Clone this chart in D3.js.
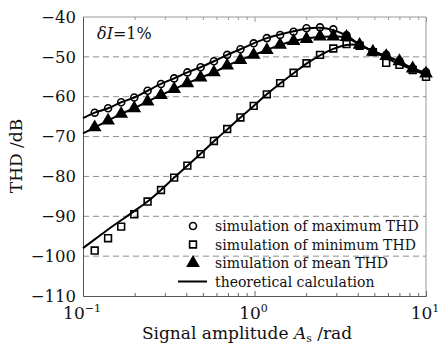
<!DOCTYPE html>
<html>
<head>
<meta charset="utf-8">
<script src="https://cdn.jsdelivr.net/npm/d3@7"></script>
<style>
  body { margin: 0; background: #fff; }
  svg { display: block; font-family: "DejaVu Serif", serif; }
</style>
</head>
<body>
<div id="chart"></div>
<script>
// signal amplitude (rad) of the simulation points
const amplitude = [
  0.117, 0.140, 0.167, 0.199, 0.238, 0.285, 0.340, 0.406, 0.485, 0.580,
  0.693, 0.828, 0.989, 1.18, 1.41, 1.69, 2.01, 2.41, 2.88, 3.44,
  4.10, 4.90, 5.86, 7.00, 8.36, 10.0,
];
const maxThd = [
  -64.0, -62.9, -61.4, -60.2, -58.5, -56.8, -55.4, -53.9, -52.6, -51.1,
  -49.5, -48.1, -46.6, -45.3, -44.5, -43.7, -42.8, -42.6, -43.1, -44.6,
  -47.0, -48.7, -49.5, -51.0, -52.9, -53.8,
];
const minThd = [
  -98.6, -95.5, -92.6, -89.5, -86.3, -83.4, -80.3, -77.3, -74.4, -71.1,
  -68.1, -65.2, -62.3, -59.4, -56.6, -54.0, -51.6, -49.5, -47.9, -46.8,
  -47.2, -48.8, -51.5, -52.0, -53.3, -55.0,
];
const meanThd = [
  -67.7, -66.0, -64.3, -62.9, -61.2, -59.6, -58.1, -56.6, -55.2, -53.9,
  -52.2, -50.8, -49.5, -48.3, -47.0, -46.0, -45.5, -44.9, -44.9, -45.0,
  -47.0, -48.7, -49.8, -51.1, -52.9, -54.2,
];

// theoretical curves, read at the left edge and at the point positions
const theoryAmp = [0.1].concat(amplitude);
const theoryMax = [
  -65.4, -64.0, -62.9, -61.4, -60.2, -58.5, -56.8, -55.4, -53.9, -52.6, -51.1,
  -49.5, -48.1, -46.6, -45.3, -44.4, -43.6, -42.9, -42.7, -43.3, -44.7,
  -46.9, -48.6, -49.7, -51.2, -52.9, -54.0,
];
const theoryMin = [
  -98.0, -95.8, -93.3, -91.0, -88.7, -86.3, -83.4, -80.3, -77.3, -74.3, -71.2,
  -68.2, -65.2, -62.3, -59.4, -56.7, -54.1, -51.7, -49.6, -48.0, -47.0,
  -47.1, -48.6, -50.3, -51.8, -53.2, -54.6,
];
const theoryMean = [
  -69.2, -67.7, -66.0, -64.3, -62.9, -61.2, -59.6, -58.1, -56.6, -55.2, -53.9,
  -52.2, -50.8, -49.5, -48.3, -47.0, -46.0, -45.4, -45.0, -44.9, -45.2,
  -46.9, -48.6, -49.9, -51.2, -52.9, -54.2,
];

const yTicks = [-110, -100, -90, -80, -70, -60, -50, -40];
const yGrid = [-100, -90, -80, -70, -60, -50];
const xMajor = [{ v: 0.1, exp: "\u22121" }, { v: 1, exp: "0" }, { v: 10, exp: "1" }];
const legendLabels = [
  "simulation of maximum THD",
  "simulation of minimum THD",
  "simulation of mean THD",
  "theoretical calculation",
];

const width = 440, height = 344;
const svg = d3.select("#chart").append("svg")
  .attr("width", width).attr("height", height);

const x = d3.scaleLog().domain([0.1, 10]).range([83, 426]);
const y = d3.scaleLinear().domain([-110, -40]).range([296, 17]);

// grid
svg.append("g").selectAll("line").data(yGrid).enter().append("line")
  .attr("x1", x(0.1)).attr("x2", x(10))
  .attr("y1", d => y(d)).attr("y2", d => y(d))
  .attr("stroke", "#8c8c8c").attr("stroke-width", 1)
  .attr("stroke-dasharray", "6,4");

// frame: top and right lighter
svg.append("path")
  .attr("d", `M${x(0.1)},${y(-40)}H${x(10)}V${y(-110)}`)
  .attr("fill", "none").attr("stroke", "#9a9a9a").attr("stroke-width", 1);

const minor = x.ticks().filter(v => !xMajor.some(m => Math.abs(m.v - v) < 1e-9));

// bottom axis, ticks inside
const bottomAxis = svg.append("g").attr("transform", `translate(0,${y(-110)})`);
bottomAxis.call(d3.axisBottom(x).tickValues(xMajor.map(m => m.v)).tickSizeInner(-5).tickSizeOuter(0).tickFormat(""));
bottomAxis.append("g").call(d3.axisBottom(x).tickValues(minor).tickSizeInner(-3).tickSizeOuter(0).tickFormat(""));
bottomAxis.selectAll(".domain").attr("stroke", "#555");
bottomAxis.selectAll(".tick line").attr("stroke", "#666");

const topAxis = svg.append("g").attr("transform", `translate(0,${y(-40)})`);
topAxis.call(d3.axisTop(x).tickValues(xMajor.map(m => m.v)).tickSizeInner(-5).tickSizeOuter(0).tickFormat(""));
topAxis.append("g").call(d3.axisTop(x).tickValues(minor).tickSizeInner(-3).tickSizeOuter(0).tickFormat(""));
topAxis.selectAll(".domain").remove();
topAxis.selectAll(".tick line").attr("stroke", "#999");

// left axis
const leftAxis = svg.append("g").attr("transform", `translate(${x(0.1)},0)`);
leftAxis.call(d3.axisLeft(y).tickValues(yTicks).tickSize(0).tickPadding(7)
  .tickFormat(d => String(d).replace("-", "\u2212")));
leftAxis.select(".domain").attr("stroke", "#555");
leftAxis.selectAll("text").attr("font-family", "DejaVu Serif").attr("font-size", 16.5).attr("fill", "#111");

// x tick labels with exponents
const xl = svg.append("g").selectAll("text").data(xMajor).enter().append("text")
  .attr("x", d => x(d.v) - 1).attr("y", 318.5)
  .attr("text-anchor", "middle").attr("font-size", 17).attr("fill", "#111");
xl.append("tspan").text("10");
xl.append("tspan").attr("dy", -7).attr("font-size", 11).text(d => d.exp);

// axis titles
svg.append("text").attr("transform", "translate(22,156) rotate(-90)")
  .attr("text-anchor", "middle").attr("font-size", 17).attr("fill", "#111")
  .text("THD /dB");
const xt = svg.append("text").attr("x", 247).attr("y", 338.5)
  .attr("text-anchor", "middle").attr("font-size", 17).attr("fill", "#111");
xt.append("tspan").text("Signal amplitude ");
xt.append("tspan").attr("font-style", "italic").text("A");
xt.append("tspan").attr("dy", 3).attr("font-size", 11).text("s");
xt.append("tspan").attr("dy", -3).text(" /rad");

// delta I label
const dl = svg.append("text").attr("x", 97).attr("y", 39)
  .attr("font-size", 16).attr("fill", "#111");
dl.append("tspan").attr("font-style", "italic").text("\u03B4I");
dl.append("tspan").text("=1%");

// markers
const pts = series => amplitude.map((a, i) => [a, series[i]]);
const circle = d3.symbol().type(d3.symbolCircle).size(38);
const square = d3.symbol().type(d3.symbolSquare).size(46);
const tri = d3.symbol().type(d3.symbolTriangle).size(52);

function drawMarks(series, sym, fill) {
  svg.append("g").selectAll("path").data(pts(series)).enter().append("path")
    .attr("transform", d => `translate(${x(d[0])},${y(d[1])})`)
    .attr("d", sym)
    .attr("fill", fill).attr("stroke", "#000").attr("stroke-width", 1.6);
}
drawMarks(maxThd, circle, "none");
drawMarks(minThd, square, "none");
drawMarks(meanThd, tri, "#000");

// theory lines
const line = d3.line().x(d => x(d[0])).y(d => y(d[1])).curve(d3.curveCatmullRom);
[theoryMax, theoryMin, theoryMean].forEach(s => {
  svg.append("path").datum(theoryAmp.map((a, i) => [a, s[i]]))
    .attr("d", line).attr("fill", "none")
    .attr("stroke", "#000").attr("stroke-width", 2);
});

// legend
const lg = svg.append("g");
const rowY = [226, 244.5, 263, 281.5];
const syms = [circle, square, tri];
syms.forEach((s, i) => {
  lg.append("path").attr("transform", `translate(193,${rowY[i]})`).attr("d", s)
    .attr("fill", i === 2 ? "#000" : "none").attr("stroke", "#000").attr("stroke-width", 1.6);
});
lg.append("line").attr("x1", 178).attr("x2", 207).attr("y1", rowY[3]).attr("y2", rowY[3])
  .attr("stroke", "#000").attr("stroke-width", 2);
lg.selectAll("text").data(legendLabels).enter().append("text")
  .attr("x", 215).attr("y", (d, i) => rowY[i] + 5)
  .attr("font-size", 14).attr("fill", "#111").text(d => d);
</script>
</body>
</html>
